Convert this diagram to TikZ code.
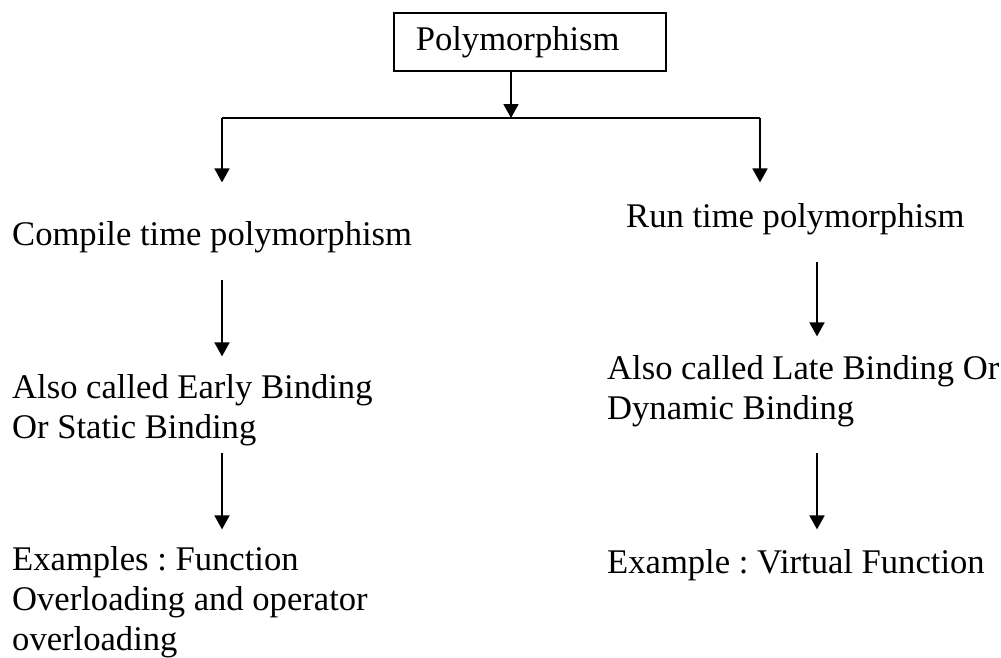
\documentclass[tikz,border=0pt]{standalone}
\usepackage{fontspec}
\setmainfont{Liberation Serif}
\frenchspacing
\usetikzlibrary{arrows.meta, positioning}
\tikzstyle{box} = [rectangle, draw=black, line width=1.6pt, anchor=north west, minimum height=58pt, text width=228pt, inner xsep=22pt, align=left, font=\fontsize{34.6}{40}\selectfont]
\tikzstyle{txt} = [anchor=base west, inner sep=0pt, align=left, font=\fontsize{34.6}{40}\selectfont]
\tikzstyle{arrow} = [-{Triangle[width=15pt,length=14pt]}, line width=1.8pt]
\tikzstyle{line} = [-, line width=1.8pt]

\begin{document}
\begin{tikzpicture}[x=1pt, y=-1pt]
    \useasboundingbox (0,0) rectangle (1001,657);

    \node (poly) [box] at (393,12) {Polymorphism};

    % multi-line nodes sit on their last baseline
    \node (ct) [txt] at (12,245) {Compile time polymorphism};
    \node (rt) [txt] at (626,227) {Run time polymorphism};
    \node (eb) [txt] at (12,438) {Also called Early Binding\\Or Static Binding};
    \node (lb) [txt] at (607,419) {Also called Late Binding Or\\Dynamic Binding};
    \node (ex1) [txt] at (12,650) {Examples : Function\\Overloading and operator\\overloading};
    \node (ex2) [txt] at (607,573) {Example : Virtual Function};

    \coordinate (split) at (511,118);
    \coordinate (lcol) at (222,118);
    \coordinate (rcol) at (760,118);
    \coordinate (rcol2) at (817,118);

    \draw [arrow] (poly.south -| split) -- (split);
    \draw [line] (lcol) -- (rcol);
    \draw [arrow, shorten >=38.4pt] (lcol) -- (ct.north -| lcol);
    \draw [arrow, shorten >=20.4pt] (rcol) -- (rt.north -| rcol);

    \draw [arrow, shorten <=27.5pt, shorten >=17.4pt] (ct.south -| lcol) -- (eb.north -| lcol);
    \draw [arrow, shorten <=7.5pt, shorten >=16.4pt] (eb.south -| lcol) -- (ex1.north -| lcol);

    \draw [arrow, shorten <=27.5pt, shorten >=18.4pt] (rt.south -| rcol2) -- (lb.north -| rcol2);
    \draw [arrow, shorten <=26.5pt, shorten >=19.4pt] (lb.south -| rcol2) -- (ex2.north -| rcol2);

\end{tikzpicture}
\end{document}
